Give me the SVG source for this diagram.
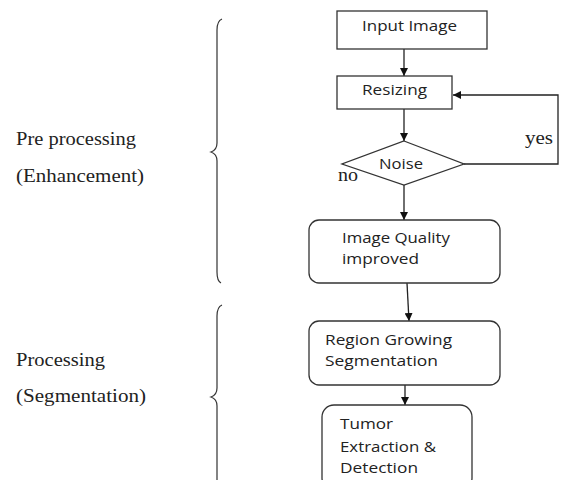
<svg xmlns="http://www.w3.org/2000/svg" width="561" height="480" viewBox="0 0 561 480">
<style>
.box{fill:#fff;stroke:#333;stroke-width:1.3}
.t{font-family:"Open Sans","Liberation Sans",sans-serif;font-size:15px;fill:#222}
.s{font-family:"Liberation Serif","DejaVu Serif",serif;font-size:18px;fill:#222}
.c{fill:none;stroke:#222;stroke-width:1.3}
.br{fill:none;stroke:#333;stroke-width:1.2}
</style>
<defs>
<marker id="ah" viewBox="0 0 10 10" refX="10" refY="5" markerWidth="8" markerHeight="8" markerUnits="userSpaceOnUse" orient="auto">
<path d="M0,0 L10,5 L0,10 Z" fill="#111"/>
</marker>
</defs>
<rect width="561" height="480" fill="#fff"/>
<g id="labels">
<text class="s" x="16" y="145" textLength="120" lengthAdjust="spacingAndGlyphs">Pre processing</text>
<text class="s" x="16" y="182" textLength="128" lengthAdjust="spacingAndGlyphs">(Enhancement)</text>
<text class="s" x="16" y="366" textLength="89" lengthAdjust="spacingAndGlyphs">Processing</text>
<text class="s" x="16" y="402" textLength="130" lengthAdjust="spacingAndGlyphs">(Segmentation)</text>
</g>
<g id="braces">
<path class="br" d="M222,19 Q217,21 217,30 L217,143 Q217,150 211,152 Q217,154 217,161 L217,272 Q217,281 221,283"/>
<path class="br" d="M222,305 Q217,307 217,316 L217,388 Q217,395 211,397 Q217,399 217,406 L217,485"/>
</g>
<g id="connectors">
<line class="c" x1="404" y1="49" x2="404" y2="76" marker-end="url(#ah)"/>
<line class="c" x1="404" y1="109" x2="404" y2="141" marker-end="url(#ah)"/>
<polyline class="c" points="464,164 558,164 558,95 453,95" marker-end="url(#ah)"/>
<line class="c" x1="404" y1="185" x2="404" y2="220" marker-end="url(#ah)"/>
<line class="c" x1="407" y1="283" x2="409" y2="321" marker-end="url(#ah)"/>
<line class="c" x1="405" y1="385" x2="405" y2="405" marker-end="url(#ah)"/>
<text class="s" x="525" y="144" font-size="16" textLength="28" lengthAdjust="spacingAndGlyphs">yes</text>
<text class="s" x="338" y="181" font-size="16" textLength="20" lengthAdjust="spacingAndGlyphs">no</text>
</g>
<g id="input">
<rect class="box" x="337" y="11" width="150" height="38"/>
<text class="t" x="362" y="31" textLength="95" lengthAdjust="spacingAndGlyphs">Input Image</text>
</g>
<g id="resizing">
<rect class="box" x="337" y="76" width="115" height="33"/>
<text class="t" x="362" y="95" textLength="65" lengthAdjust="spacingAndGlyphs">Resizing</text>
</g>
<g id="noise">
<polygon class="box" points="404,141 464,164 404,185 342,164"/>
<text class="t" x="379" y="169" textLength="44" lengthAdjust="spacingAndGlyphs">Noise</text>
</g>
<g id="quality">
<rect class="box" x="309" y="220" width="191" height="63" rx="10"/>
<text class="t" x="342" y="243" textLength="108" lengthAdjust="spacingAndGlyphs">Image Quality</text>
<text class="t" x="342" y="264" textLength="77" lengthAdjust="spacingAndGlyphs">improved</text>
</g>
<g id="region">
<rect class="box" x="309" y="321" width="191" height="64" rx="10"/>
<text class="t" x="325" y="345" textLength="127" lengthAdjust="spacingAndGlyphs">Region Growing</text>
<text class="t" x="325" y="366" textLength="113" lengthAdjust="spacingAndGlyphs">Segmentation</text>
</g>
<g id="tumor">
<rect class="box" x="322" y="405" width="150" height="85" rx="12"/>
<text class="t" x="340" y="429" textLength="53" lengthAdjust="spacingAndGlyphs">Tumor</text>
<text class="t" x="340" y="452" textLength="96" lengthAdjust="spacingAndGlyphs">Extraction &amp;</text>
<text class="t" x="340" y="473" textLength="78" lengthAdjust="spacingAndGlyphs">Detection</text>
</g>
</svg>
